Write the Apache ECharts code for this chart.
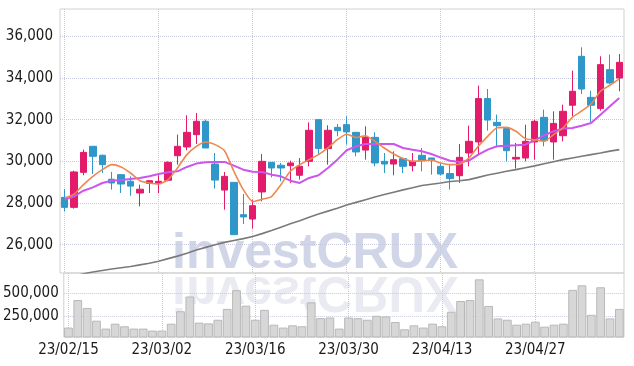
<!DOCTYPE html>
<html>
<head>
<meta charset="utf-8">
<script src="https://cdn.jsdelivr.net/npm/echarts@6/dist/echarts.min.js"></script>
<style>
  html, body { margin: 0; padding: 0; background: #fff; }
  #container { width: 634px; height: 366px; }
</style>
</head>
<body>
<div id="container"></div>
<script>
// trading days
const dates = [
  '23/02/15', '23/02/16', '23/02/17', '23/02/20', '23/02/21', '23/02/22', '23/02/23', '23/02/24', '23/02/27', '23/02/28',
  '23/03/02', '23/03/03', '23/03/06', '23/03/07', '23/03/08', '23/03/09', '23/03/10', '23/03/13', '23/03/14', '23/03/15',
  '23/03/16', '23/03/17', '23/03/20', '23/03/21', '23/03/22', '23/03/23', '23/03/24', '23/03/27', '23/03/28', '23/03/29',
  '23/03/30', '23/03/31', '23/04/03', '23/04/04', '23/04/05', '23/04/06', '23/04/07', '23/04/10', '23/04/11', '23/04/12',
  '23/04/13', '23/04/14', '23/04/17', '23/04/18', '23/04/19', '23/04/20', '23/04/21', '23/04/24', '23/04/25', '23/04/26',
  '23/04/27', '23/04/28', '23/05/02', '23/05/03', '23/05/04', '23/05/08', '23/05/09', '23/05/10', '23/05/11', '23/05/12'
];

// [open, close, low, high]
const candles = [
  [28270, 27790, 27600, 28660], [27790, 29490, 27730, 29550], [29470, 30430, 29330, 30560], [30720, 30240, 29390, 30720],
  [30290, 29840, 29440, 30320], [29140, 28960, 28640, 29490], [29360, 28910, 28480, 29360], [29040, 28810, 28350, 29280],
  [28480, 28660, 27840, 28880], [28940, 29070, 28480, 29070], [28930, 29040, 28480, 29330], [29090, 29950, 29040, 30000],
  [30270, 30720, 29840, 31280], [30690, 31390, 30530, 32210], [31280, 31920, 30830, 32320], [31920, 30640, 30640, 32000],
  [29870, 29100, 28690, 30400], [28620, 29280, 27680, 29490], [28990, 26480, 26480, 28990], [27440, 27330, 26990, 28430],
  [27230, 27870, 26770, 28160], [28530, 30000, 28080, 30350], [29950, 29680, 29230, 29950], [29810, 29680, 29040, 29920],
  [29790, 29920, 28960, 30030], [29330, 29760, 29120, 30160], [30000, 31490, 29760, 31870], [32000, 30610, 30320, 32000],
  [30610, 31490, 29840, 31730], [31630, 31470, 31200, 31790], [31760, 31410, 30800, 32160], [31390, 30450, 30240, 31390],
  [30540, 31150, 30080, 31680], [31150, 29920, 29760, 31390], [30000, 29870, 29440, 30400], [29870, 30080, 29330, 30480],
  [30130, 29760, 29440, 30130], [29790, 30000, 29520, 30400], [30290, 30030, 29520, 30640], [30160, 30080, 29360, 30160],
  [29760, 29390, 29330, 29920], [29410, 29170, 28640, 29840], [29310, 30190, 28960, 30830], [30400, 30960, 29760, 31710],
  [30930, 33010, 30350, 33630], [33010, 31980, 31470, 33470], [31870, 31710, 30670, 32240], [31570, 30510, 30000, 31570],
  [30110, 30190, 29650, 30880], [30160, 30960, 30000, 31760], [30930, 31920, 30080, 32000], [32110, 30990, 30720, 32480],
  [30930, 31820, 30080, 32400], [31230, 32400, 30960, 32720], [32690, 33360, 32160, 34350], [35040, 33470, 33230, 35470],
  [33070, 32690, 31890, 33390], [32530, 34640, 32430, 35040], [34400, 33760, 33710, 35120], [34000, 34750, 33360, 35150]
];

const ma5 = [
  28240, 28430, 28880, 29280, 29600, 29840, 29730, 29440, 29070, 28960,
  28910, 29120, 29680, 30320, 30720, 30930, 30800, 30510, 29520, 28640,
  28070, 28180, 28310, 28880, 29520, 29840, 30080, 30320, 30640, 31040,
  31300, 31140, 31230, 30960, 30640, 30350, 30130, 30000, 30020, 30060,
  29920, 29840, 29860, 30160, 30720, 31200, 31610, 31630, 31440, 31090,
  31030, 30960, 31280, 31600, 32110, 32420, 32750, 33360, 33650, 33960
];

const ma20 = [
  28160, 28320, 28590, 28750, 28960, 29070, 29100, 29150, 29200, 29280,
  29390, 29470, 29520, 29730, 29890, 29950, 29970, 29970, 29790, 29600,
  29500, 29490, 29360, 29280, 29070, 28960, 29200, 29330, 29680, 30080,
  30530, 30720, 30830, 30830, 30830, 30830, 30640, 30560, 30480, 30350,
  30180, 30030, 29970, 30030, 30320, 30560, 30720, 30750, 30770, 30800,
  31010, 31250, 31440, 31570, 31600, 31710, 31840, 32240, 32640, 33040
];

const ma60 = [
  24380, 24480, 24600, 24690, 24760, 24830, 24890, 24950, 25030, 25110,
  25200, 25330, 25450, 25590, 25740, 25870, 26000, 26110, 26200, 26290,
  26390, 26530, 26680, 26840, 27000, 27150, 27310, 27470, 27610, 27750,
  27900, 28030, 28160, 28290, 28410, 28520, 28630, 28730, 28840, 28900,
  28960, 29030, 29070, 29120, 29230, 29340, 29430, 29520, 29600, 29690,
  29780, 29880, 29980, 30080, 30160, 30240, 30320, 30400, 30490, 30560
];

const volumes = [
  131000, 426000, 342000, 205000, 120000, 173000, 145000, 120000, 120000, 99000,
  99000, 173000, 306000, 464000, 184000, 176000, 215000, 331000, 532000, 366000,
  215000, 321000, 162000, 131000, 155000, 145000, 401000, 232000, 239000, 120000,
  239000, 232000, 215000, 257000, 250000, 190000, 113000, 155000, 131000, 173000,
  145000, 300000, 416000, 426000, 648000, 363000, 229000, 215000, 162000, 173000,
  194000, 141000, 162000, 173000, 535000, 584000, 268000, 563000, 229000, 331000
];

const priceTicks = [26000, 28000, 30000, 32000, 34000, 36000];
const volumeTicks = [250000, 500000];

const UP = '#e31b6b';
const DOWN = '#2f97c9';
const FONT = '"Liberation Sans Narrow", "DejaVu Sans Condensed", sans-serif';
const GRIDLINE = { show: true, lineStyle: { color: '#c6c9dd', type: 'dotted', width: 1 } };
const LABEL = { color: '#1a1a1a', fontSize: 15, fontFamily: FONT };

let myChart = echarts.init(document.getElementById('container'));

let option = {
  animation: false,
  backgroundColor: '#fff',
  graphic: [
    {
      type: 'text', x: 172, y: 272, z: -10, silent: true,
      style: { text: 'investCRUX', x: 0, y: -18, verticalAlign: 'middle', fill: '#d0d5e8',
        font: 'bold 50px "Liberation Sans", Arial, sans-serif' }
    },
    {
      type: 'text', x: 172, y: 273, z: -10, scaleY: -1, silent: true,
      style: { text: 'investCRUX', x: 0, y: -18, verticalAlign: 'middle', fill: '#eaeaf2',
        font: 'bold 50px "Liberation Sans", Arial, sans-serif' }
    }
  ],
  grid: [
    { left: 60, right: 10, top: 9, bottom: 93, show: true, borderColor: '#d0d0d0', borderWidth: 1 },
    { left: 60, right: 10, top: 273, bottom: 29, show: true, borderColor: '#d0d0d0', borderWidth: 1 }
  ],
  xAxis: [
    {
      type: 'category', gridIndex: 0, data: dates, boundaryGap: true,
      axisLine: { show: false }, axisTick: { show: false }, axisLabel: { show: false },
      splitLine: Object.assign({ interval: 9, alignWithLabel: true }, GRIDLINE)
    },
    {
      type: 'category', gridIndex: 1, data: dates, boundaryGap: true,
      axisLine: { show: false }, axisTick: { show: false, interval: 9, alignWithLabel: true },
      axisLabel: Object.assign({ interval: 9, margin: 6 }, LABEL),
      splitLine: Object.assign({ interval: 9, alignWithLabel: true }, GRIDLINE)
    }
  ],
  yAxis: [
    {
      type: 'value', gridIndex: 0, min: 24640, max: 37310, scale: true,
      axisLine: { show: false },
      axisTick: { show: false, customValues: priceTicks },
      axisLabel: Object.assign({
        customValues: priceTicks, margin: 7,
        formatter: v => v.toLocaleString('en-US')
      }, LABEL),
      splitLine: GRIDLINE
    },
    {
      type: 'value', gridIndex: 1, min: 30000, max: 716000,
      axisLine: { show: false },
      axisTick: { show: false, customValues: volumeTicks },
      axisLabel: Object.assign({ customValues: volumeTicks, margin: 5 }, LABEL),
      splitLine: GRIDLINE
    }
  ],
  series: [
    {
      type: 'candlestick', xAxisIndex: 0, yAxisIndex: 0, data: candles, barWidth: '72%',
      itemStyle: { color: UP, color0: DOWN, borderColor: UP, borderColor0: DOWN, borderWidth: 1 }
    },
    {
      type: 'line', xAxisIndex: 0, yAxisIndex: 0, data: ma60, symbol: 'none', z: 3,
      lineStyle: { color: '#7a7a7a', width: 1.6 }
    },
    {
      type: 'line', xAxisIndex: 0, yAxisIndex: 0, data: ma20, symbol: 'none', z: 3,
      lineStyle: { color: '#cc55ee', width: 2 }
    },
    {
      type: 'line', xAxisIndex: 0, yAxisIndex: 0, data: ma5, symbol: 'none', z: 3, smooth: 0.2,
      lineStyle: { color: '#ee8850', width: 1.6 }
    },
    {
      type: 'bar', xAxisIndex: 1, yAxisIndex: 1, data: volumes, barCategoryGap: '6%',
      itemStyle: { color: 'rgba(212,212,212,0.92)', borderColor: '#b8b8b8', borderWidth: 1 }
    }
  ]
};

myChart.setOption(option);
</script>
</body>
</html>
